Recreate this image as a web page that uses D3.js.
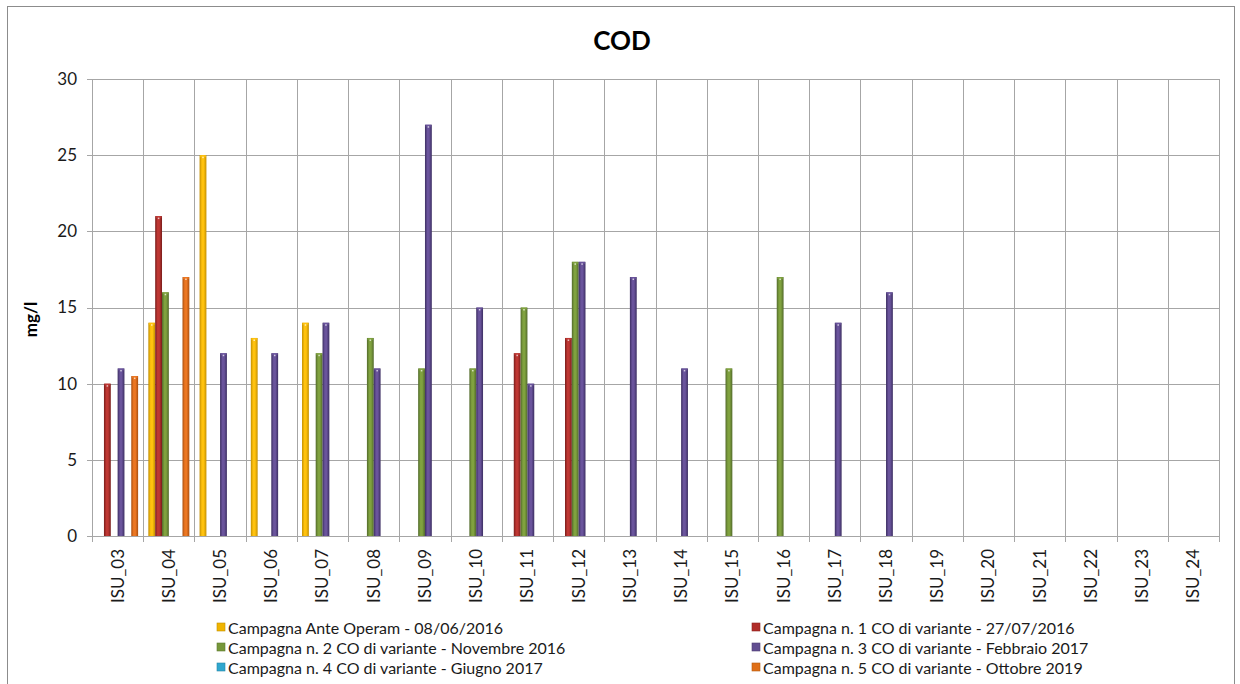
<!DOCTYPE html>
<html>
<head>
<meta charset="utf-8">
<script src="https://cdn.jsdelivr.net/npm/d3@7"></script>
<style>
  html, body { margin: 0; padding: 0; background: #fff; }
  svg { display: block; font-family: Lato, "Open Sans", sans-serif; }
</style>
</head>
<body>
<svg id="chart" width="1240" height="684"></svg>
<script>
// Stations along the x axis
const stations = ["ISU_03","ISU_04","ISU_05","ISU_06","ISU_07","ISU_08","ISU_09","ISU_10","ISU_11",
  "ISU_12","ISU_13","ISU_14","ISU_15","ISU_16","ISU_17","ISU_18","ISU_19","ISU_20","ISU_21",
  "ISU_22","ISU_23","ISU_24"];

// Campaign names (legend order)
const campaigns = [
  "Campagna Ante Operam - 08/06/2016",
  "Campagna n. 1 CO di variante - 27/07/2016",
  "Campagna n. 2 CO di variante - Novembre 2016",
  "Campagna n. 3 CO di variante - Febbraio 2017",
  "Campagna n. 4 CO di variante - Giugno 2017",
  "Campagna n. 5 CO di variante - Ottobre 2019"
];

// COD values in mg/l per station, one array per campaign (null = not measured)
const anteOperam = [null, 14, 25, 13, 14, null, null, null, null, null, null, null, null, null, null, null, null, null, null, null, null, null];
const campagna1  = [10, 21, null, null, null, null, null, null, 12, 13, null, null, null, null, null, null, null, null, null, null, null, null];
const campagna2  = [null, 16, null, null, 12, 13, 11, 11, 15, 18, null, null, 11, 17, null, null, null, null, null, null, null, null];
const campagna3  = [11, null, 12, 12, 14, 11, 27, 15, 10, 18, 17, 11, null, null, 14, 16, null, null, null, null, null, null];
const campagna4  = [null, null, null, null, null, null, null, null, null, null, null, null, null, null, null, null, null, null, null, null, null, null];
const campagna5  = [10.5, 17, null, null, null, null, null, null, null, null, null, null, null, null, null, null, null, null, null, null, null, null];

const yTicks = [0, 5, 10, 15, 20, 25, 30];

const seriesValues = [anteOperam, campagna1, campagna2, campagna3, campagna4, campagna5];

// Fill colours per campaign: [edge, centre]
const palette = [
  ["#C28E00", "#FFC20E"],
  ["#781C1A", "#BE3733"],
  ["#51692A", "#80A23F"],
  ["#3C2E62", "#6A549C"],
  ["#1F87A8", "#4CC3E6"],
  ["#A94E0E", "#EC7722"]
];
const legendSwatch = ["#F0B400", "#B02C28", "#76973A", "#614D90", "#2FA7CF", "#DF6F18"];

const svg = d3.select("#chart");
const plot = { left: 92, right: 1219, top: 79, bottom: 536 };
const textColor = "#1a1a1a";

// Outer chart frame
svg.append("rect")
  .attr("x", 7.5).attr("y", 6.5)
  .attr("width", 1227).attr("height", 700)
  .attr("fill", "#fff").attr("stroke", "#8c8c8c").attr("stroke-width", 1);

// Gradients for the bars
const defs = svg.append("defs");
palette.forEach((c, i) => {
  const g = defs.append("linearGradient").attr("id", "grad" + i)
    .attr("x1", "0%").attr("x2", "100%").attr("y1", "0%").attr("y2", "0%");
  g.append("stop").attr("offset", "0%").attr("stop-color", c[0]);
  g.append("stop").attr("offset", "35%").attr("stop-color", c[1]);
  g.append("stop").attr("offset", "60%").attr("stop-color", c[1]);
  g.append("stop").attr("offset", "100%").attr("stop-color", c[0]);
});

const x0 = d3.scaleBand().domain(stations).range([plot.left, plot.right]).padding(0);
const x1 = d3.scaleBand().domain(d3.range(campaigns.length))
  .range([0, x0.bandwidth()]).paddingInner(0).paddingOuter(0.75);
const y = d3.scaleLinear().domain([0, 30]).range([plot.bottom, plot.top]);

const gridColor = "#a6a6a6";

// Horizontal gridlines (with short outside ticks)
svg.append("g").selectAll("line").data(yTicks).join("line")
  .attr("x1", plot.left - 5).attr("x2", plot.right)
  .attr("y1", d => Math.round(y(d)) + 0.5).attr("y2", d => Math.round(y(d)) + 0.5)
  .attr("stroke", gridColor).attr("stroke-width", 1);

// Vertical gridlines at category boundaries
const bounds = stations.map(s => x0(s)).concat([plot.right]);
svg.append("g").selectAll("line").data(bounds).join("line")
  .attr("x1", d => Math.round(d) + 0.5).attr("x2", d => Math.round(d) + 0.5)
  .attr("y1", plot.top).attr("y2", plot.bottom + 6)
  .attr("stroke", gridColor).attr("stroke-width", 1);

// Y axis labels
const yAxis = d3.axisLeft(y).tickValues(yTicks).tickSize(0).tickPadding(15);
const yg = svg.append("g").attr("transform", `translate(${plot.left},0)`).call(yAxis);
yg.select(".domain").remove();
yg.selectAll("text").attr("font-size", 17).attr("fill", textColor).attr("font-family", "Lato, sans-serif");

// X axis labels (rotated)
const xAxis = d3.axisBottom(x0).tickSize(0).tickPadding(0);
const xg = svg.append("g").attr("transform", `translate(0,${plot.bottom})`).call(xAxis);
xg.select(".domain").remove();
xg.selectAll("text")
  .attr("font-size", 17).attr("fill", textColor).attr("font-family", "Lato, sans-serif")
  .attr("transform", "rotate(-90)")
  .attr("text-anchor", "end")
  .attr("dy", "0.35em")
  .attr("x", -13).attr("y", 0);

// Bars
const barData = [];
seriesValues.forEach((vals, si) => {
  vals.forEach((v, ci) => {
    if (v != null) barData.push({ s: si, station: stations[ci], v });
  });
});

const bars = svg.append("g");
bars.selectAll("rect.bar").data(barData).join("rect")
  .attr("class", "bar")
  .attr("x", d => x0(d.station) + x1(d.s))
  .attr("y", d => y(d.v))
  .attr("width", x1.bandwidth())
  .attr("height", d => y(0) - y(d.v))
  .attr("fill", d => `url(#grad${d.s})`);

// Bevelled top cap of each bar
bars.selectAll("rect.cap").data(barData).join("rect")
  .attr("class", "cap")
  .attr("x", d => x0(d.station) + x1(d.s) + 0.5)
  .attr("y", d => y(d.v))
  .attr("width", x1.bandwidth() - 1)
  .attr("height", 2)
  .attr("fill", d => palette[d.s][1])
  .attr("opacity", 0.8);
bars.selectAll("rect.dot").data(barData).join("rect")
  .attr("class", "dot")
  .attr("x", d => x0(d.station) + x1(d.s) + x1.bandwidth() / 2 - 0.75)
  .attr("y", d => y(d.v) + 1.5)
  .attr("width", 1.5).attr("height", 1.5)
  .attr("fill", "#ffffff").attr("opacity", 0.7);

// Title
svg.append("text")
  .attr("x", 622).attr("y", 50)
  .attr("text-anchor", "middle")
  .attr("font-size", 26).attr("font-weight", "bold").attr("fill", "#000")
  .attr("font-family", "Lato, sans-serif")
  .text("COD");

// Y axis title
svg.append("text")
  .attr("transform", `translate(37,${(plot.top + plot.bottom) / 2 + 12}) rotate(-90)`)
  .attr("text-anchor", "middle")
  .attr("font-size", 17).attr("font-weight", "bold").attr("fill", "#000")
  .attr("font-family", "Lato, sans-serif")
  .text("mg/l");

// Legend: two columns, three rows
const legendCols = [217, 752];
const legendRows = [628, 648, 668];
const lg = svg.append("g");
campaigns.forEach((name, i) => {
  const cx = legendCols[i % 2];
  const cy = legendRows[Math.floor(i / 2)];
  const item = lg.append("g");
  item.append("rect")
    .attr("x", cx).attr("y", cy - 5).attr("width", 8).attr("height", 8)
    .attr("fill", legendSwatch[i]).attr("stroke", d3.color(legendSwatch[i]).darker(0.6)).attr("stroke-width", 0.6);
  item.append("text")
    .attr("x", cx + 11).attr("y", cy)
    .attr("dy", "0.35em")
    .attr("font-size", 16).attr("fill", textColor)
    .attr("font-family", "Lato, sans-serif")
    .text(name);
});
</script>
</body>
</html>
